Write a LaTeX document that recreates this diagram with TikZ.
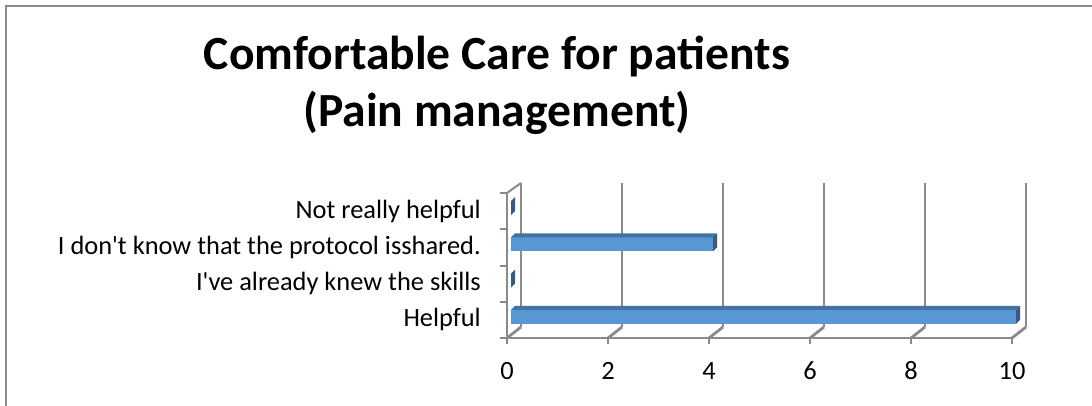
\documentclass[tikz,border=0pt]{standalone}
\usepackage{fontspec}
\setmainfont{Carlito}
\usetikzlibrary{shapes}

\definecolor{frameGray}{RGB}{140,140,140}
\definecolor{gridGray}{RGB}{138,138,138}
\definecolor{barFront}{RGB}{88,151,212}
\definecolor{barTop}{RGB}{66,114,160}
\definecolor{barSide}{RGB}{52,90,136}

\begin{document}
\begin{tikzpicture}[x = 1pt, y = -1pt]
	\tikzstyle{frameStyle} = [draw = frameGray, line width = 1.6pt]
	\tikzstyle{gridStyle} = [draw = gridGray, line width = 2.8pt]
	\tikzstyle{axisStyle} = [draw = gridGray, line width = 2pt]
	\tikzstyle{titleStyle} = [font = \fontsize{47.6}{58}\selectfont\bfseries, inner sep = 0pt, anchor = base]
	\tikzstyle{catStyle} = [font = \fontsize{26.4}{32}\selectfont, inner sep = 0pt, anchor = east]
	\tikzstyle{valStyle} = [font = \fontsize{26.4}{32}\selectfont, inner sep = 0pt]
	\tikzstyle{frontFace} = [fill = barFront]
	\tikzstyle{topFace} = [fill = barTop]
	\tikzstyle{sideFace} = [fill = barSide]
	\useasboundingbox (0,0) rectangle (1092,405);
	\draw[frameStyle] (6,420) -- (6,6) -- (1100,6);
	% title
	\node[titleStyle] (title1) at (497,69) {Comfortable Care for patients};
	\node[titleStyle] (title2) at (497,126) {(Pain management)};
	% back wall
	\draw[gridStyle] (521,183) -- (521,327);
	\draw[gridStyle] (622,183) -- (622,327);
	\draw[gridStyle] (723,183) -- (723,327);
	\draw[gridStyle] (824,183) -- (824,327);
	\draw[gridStyle] (925,183) -- (925,327);
	\draw[gridStyle] (1026,183) -- (1026,327);
	% floor
	\draw[gridStyle] (507,338) -- (521,327);
	\draw[gridStyle] (608,338) -- (622,327);
	\draw[gridStyle] (709,338) -- (723,327);
	\draw[gridStyle] (810,338) -- (824,327);
	\draw[gridStyle] (911,338) -- (925,327);
	\draw[gridStyle] (1012,338) -- (1026,327);
	% axes
	\draw[axisStyle] (507,193) -- (521,183);
	\draw[axisStyle] (507,193) -- (507,338) -- (1012,338);
	\draw[axisStyle] (500,193) -- (507,193);
	\draw[axisStyle] (500,229.25) -- (507,229.25);
	\draw[axisStyle] (500,265.5) -- (507,265.5);
	\draw[axisStyle] (500,301.75) -- (507,301.75);
	\draw[axisStyle] (500,338) -- (507,338);
	\draw[axisStyle] (507,338) -- (507,344);
	\draw[axisStyle] (608,338) -- (608,344);
	\draw[axisStyle] (709,338) -- (709,344);
	\draw[axisStyle] (810,338) -- (810,344);
	\draw[axisStyle] (911,338) -- (911,344);
	\draw[axisStyle] (1012,338) -- (1012,344);
	% bars
	\fill[sideFace] (511,201.1) -- (515,197.1) -- (515,211.1) -- (511,215.1) -- cycle;
	\fill[frontFace] (511,237.4) rectangle (713,251.4);
	\fill[topFace] (511,237.4) -- (515,233.4) -- (717,233.4) -- (713,237.4) -- cycle;
	\fill[sideFace] (713,237.4) -- (717,233.4) -- (717,247.4) -- (713,251.4) -- cycle;
	\fill[sideFace] (511,273.6) -- (515,269.6) -- (515,283.6) -- (511,287.6) -- cycle;
	\fill[frontFace] (511,309.9) rectangle (1016,323.9);
	\fill[topFace] (511,309.9) -- (515,305.9) -- (1020,305.9) -- (1016,309.9) -- cycle;
	\fill[sideFace] (1016,309.9) -- (1020,305.9) -- (1020,319.9) -- (1016,323.9) -- cycle;
	% labels
	\node[catStyle] (notHelpful) at (481,211.1) {Not really helpful};
	\node[catStyle] (noProtocol) at (481,247.4) {I don\textquotesingle t know that the protocol isshared.};
	\node[catStyle] (knewSkills) at (481,283.6) {I\textquotesingle ve already knew the skills};
	\node[catStyle] (helpful) at (481,319.9) {Helpful};
	\node[valStyle] (v0) at (507,371) {0};
	\node[valStyle] (v2) at (608,371) {2};
	\node[valStyle] (v4) at (709,371) {4};
	\node[valStyle] (v6) at (810,371) {6};
	\node[valStyle] (v8) at (911,371) {8};
	\node[valStyle] (v10) at (1012,371) {10};
\end{tikzpicture}
\end{document}
